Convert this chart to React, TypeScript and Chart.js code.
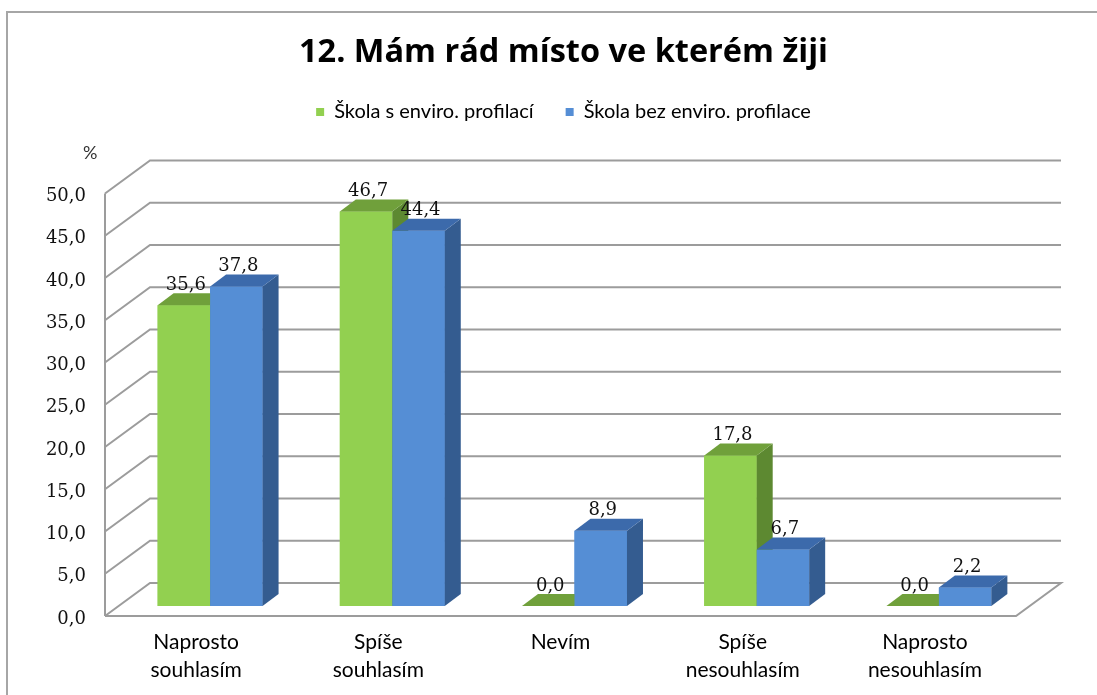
import React, { useEffect, useRef } from 'react';
import { Chart, registerables } from 'chart.js';

Chart.register(...registerables);

// ---- data ----
const TITLE = '12. Mám rád místo ve kterém žiji';
const Y_UNIT = '%';
const CATEGORIES: (string | string[])[] = [
  ['Naprosto', 'souhlasím'],
  ['Spíše', 'souhlasím'],
  'Nevím',
  ['Spíše', 'nesouhlasím'],
  ['Naprosto', 'nesouhlasím'],
];
const SERIES_NAMES = ['Škola s enviro. profilací', 'Škola bez enviro. profilace'];
const GREEN_VALUES = [35.6, 46.7, 0.0, 17.8, 0.0];
const BLUE_VALUES = [37.8, 44.4, 8.9, 6.7, 2.2];
const Y_MIN = 0;
const Y_MAX = 50;
const Y_STEP = 5;

// ---- styles ----
const COLORS = [
  { front: '#92D050', top: '#70A03B', side: '#5D8931' },
  { front: '#558ED5', top: '#3C6AAB', side: '#345C90' },
];
const GRID = '#9c9c9c';
const FRONT_DX = -14;
const FRONT_DY = 10;
const BACK_DX = 31;
const BACK_DY = -23;
const BAR_DX = 16;
const BAR_DY = 12;
const SANS = 'Lato, "Open Sans", sans-serif';
const SERIF = '"DejaVu Serif", "Liberation Serif", serif';
const TICK_SIZE = 18;
const LABEL_RIGHT_GAP = 33; // distance from bar plane left to tick label right edge

const fmt = (v: number) => v.toFixed(1).replace('.', ',');

function widestTickLabel(): number {
  const ctx = document.createElement('canvas').getContext('2d');
  if (!ctx) return 40;
  ctx.font = `${TICK_SIZE}px ${SERIF}`;
  let w = 0;
  for (let v = Y_MIN; v <= Y_MAX; v += Y_STEP) w = Math.max(w, ctx.measureText(fmt(v)).width);
  return w;
}

function drawFaces(ctx: CanvasRenderingContext2D, el: any, c: { side: string; top: string }) {
  const { x, y, base, width } = el.getProps(['x', 'y', 'base', 'width'], true);
  const l = x - width / 2;
  const r = x + width / 2;
  const top = Math.min(y, base);
  ctx.fillStyle = c.side;
  ctx.beginPath();
  ctx.moveTo(r, top);
  ctx.lineTo(r + BAR_DX, top - BAR_DY);
  ctx.lineTo(r + BAR_DX, base - BAR_DY);
  ctx.lineTo(r, base);
  ctx.closePath();
  ctx.fill();
  ctx.fillStyle = c.top;
  ctx.beginPath();
  ctx.moveTo(l, top);
  ctx.lineTo(l + BAR_DX, top - BAR_DY);
  ctx.lineTo(r + BAR_DX, top - BAR_DY);
  ctx.lineTo(r, top);
  ctx.closePath();
  ctx.fill();
}

const threeD = {
  id: 'threeD',
  beforeDraw(chart: any) {
    const { ctx, width, height } = chart;
    ctx.save();
    ctx.fillStyle = '#ffffff';
    ctx.fillRect(0, 0, width, height);
    ctx.strokeStyle = '#a6a6a6';
    ctx.lineWidth = 2;
    ctx.strokeRect(7, 12, width + 40, height + 40);
    ctx.restore();
  },
  beforeDatasetsDraw(chart: any) {
    const { ctx, chartArea, scales } = chart;
    const y = scales.y;
    const L = chartArea.left;
    const R = chartArea.right;
    ctx.save();
    ctx.strokeStyle = GRID;
    ctx.lineWidth = 2;
    y.ticks.forEach((t: any) => {
      const py = y.getPixelForValue(t.value);
      ctx.beginPath();
      ctx.moveTo(L + FRONT_DX, py + FRONT_DY);
      ctx.lineTo(L + BACK_DX, py + BACK_DY);
      ctx.lineTo(R + BACK_DX, py + BACK_DY);
      if (t.value === Y_MIN) {
        ctx.lineTo(R + FRONT_DX, py + FRONT_DY);
        ctx.lineTo(L + FRONT_DX, py + FRONT_DY);
      }
      ctx.stroke();
    });
    ctx.beginPath();
    ctx.moveTo(L + FRONT_DX, y.getPixelForValue(Y_MIN) + FRONT_DY);
    ctx.lineTo(L + FRONT_DX, y.getPixelForValue(Y_MAX) + FRONT_DY);
    ctx.stroke();
    ctx.restore();
  },
  afterDatasetsDraw(chart: any) {
    const { ctx } = chart;
    ctx.save();
    // redraw fronts with their side/top faces, series in order (left to right)
    chart.data.datasets.forEach((_ds: any, i: number) => {
      const meta = chart.getDatasetMeta(i);
      meta.data.forEach((el: any) => {
        el.draw(ctx);
        drawFaces(ctx, el, COLORS[i]);
      });
    });
    ctx.fillStyle = '#111';
    ctx.font = `18px ${SERIF}`;
    ctx.textAlign = 'center';
    ctx.textBaseline = 'middle';
    chart.data.datasets.forEach((ds: any, i: number) => {
      const meta = chart.getDatasetMeta(i);
      meta.data.forEach((el: any, j: number) => {
        const { x, y } = el.getProps(['x', 'y'], true);
        ctx.fillText(fmt(ds.data[j]), x + 2, y - 20);
      });
    });
    ctx.restore();
  },
};

export default function App() {
  const ref = useRef<HTMLCanvasElement | null>(null);
  useEffect(() => {
    if (!ref.current) return;
    const widest = widestTickLabel();
    const chart = new Chart(ref.current, {
      type: 'bar',
      data: {
        labels: CATEGORIES,
        datasets: [
          { label: SERIES_NAMES[0], data: GREEN_VALUES, backgroundColor: COLORS[0].front },
          { label: SERIES_NAMES[1], data: BLUE_VALUES, backgroundColor: COLORS[1].front },
        ],
      },
      options: {
        animation: false,
        responsive: true,
        maintainAspectRatio: false,
        layout: { padding: { left: 83, right: 53, top: 0, bottom: 0 } },
        datasets: { bar: { categoryPercentage: 0.576, barPercentage: 1.0, borderWidth: 0 } },
        scales: {
          x: {
            grid: { display: false, drawTicks: false },
            border: { display: false },
            ticks: {
              autoSkip: false,
              maxRotation: 0,
              padding: 23,
              labelOffset: FRONT_DX,
              color: '#000',
              font: { family: SANS, size: 21, lineHeight: 1.3 },
            },
            afterFit: (s: any) => { s.height = 89; },
          },
          y: {
            min: Y_MIN,
            max: Y_MAX,
            grid: { display: false, drawTicks: false },
            border: { display: false },
            ticks: {
              stepSize: Y_STEP,
              mirror: true,
              crossAlign: 'far',
              padding: -LABEL_RIGHT_GAP - widest,
              labelOffset: 13,
              color: '#111',
              font: { family: SERIF, size: TICK_SIZE },
              callback: (v: any) => fmt(Number(v)),
            },
            afterFit: (s: any) => { s.width = 36; },
          },
          y2: {
            position: 'right',
            display: true,
            grid: { display: false, drawTicks: false },
            border: { display: false },
            ticks: { display: false },
            afterFit: (s: any) => { s.width = 14; },
          },
        },
        plugins: {
          title: {
            display: true,
            text: TITLE,
            color: '#000',
            font: { family: '"Open Sans", Lato, sans-serif', size: 32.5, weight: 'bold', lineHeight: 1.0 },
            padding: { top: 36.75, bottom: 0.75 },
          },
          legend: {
            display: true,
            position: 'top',
            labels: {
              boxWidth: 8,
              boxHeight: 8,
              padding: 32,
              color: '#000',
              font: { family: SANS, size: 20 },
              sort: (a: any, b: any) => a.datasetIndex - b.datasetIndex,
            },
          },
          subtitle: {
            display: true,
            text: Y_UNIT,
            align: 'start',
            weight: 500,
            color: '#333',
            font: { family: SANS, size: 18, lineHeight: 1.2 },
            padding: { top: 10.2, bottom: 19.7 },
          },
          tooltip: { enabled: false },
        },
      },
      plugins: [threeD],
    } as any);
    return () => chart.destroy();
  }, []);
  return (
    <div style={{ position: 'absolute', left: 0, top: 0, width: 1097, height: 695, background: '#fff' }}>
      <canvas ref={ref} />
    </div>
  );
}
